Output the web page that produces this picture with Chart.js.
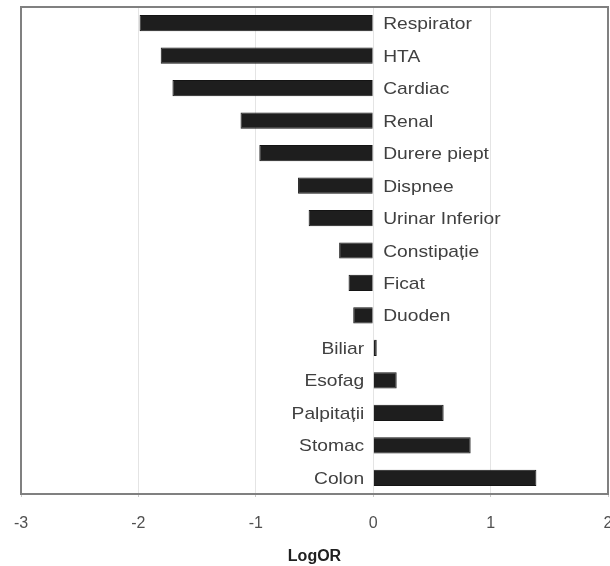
<!DOCTYPE html>
<html>
<head>
<meta charset="utf-8">
<script src="https://cdn.jsdelivr.net/npm/chart.js@4"></script>
<style>
  html, body { margin: 0; padding: 0; background: #fff; }
  #wrap { width: 610px; height: 566px; position: relative; }
</style>
</head>
<body>
<div id="wrap"><canvas id="c"></canvas></div>
<script>
const categories = ["Respirator", "HTA", "Cardiac", "Renal", "Durere piept", "Dispnee", "Urinar Inferior", "Constipație", "Ficat", "Duoden", "Biliar", "Esofag", "Palpitații", "Stomac", "Colon"];
const logOR = [-1.99, -1.81, -1.71, -1.13, -0.97, -0.64, -0.55, -0.29, -0.21, -0.17, 0.03, 0.20, 0.60, 0.83, 1.39];
const xTicks = [-3, -2, -1, 0, 1, 2];
const axisTitle = "LogOR";

const labelPlugin = {
  id: 'barLabels',
  afterDatasetsDraw(chart) {
    const ctx = chart.ctx;
    const xs = chart.scales.x;
    const meta = chart.getDatasetMeta(0);
    const x0 = xs.getPixelForValue(0);
    ctx.save();
    ctx.font = '17px "Liberation Sans", Arial, sans-serif';
    ctx.fillStyle = '#404040';
    ctx.textBaseline = 'alphabetic';
    meta.data.forEach((bar, i) => {
      const v = logOR[i];
      const y = bar.y + 6;
      ctx.save();
      if (v < 0) {
        ctx.translate(x0 + 10, y);
        ctx.scale(1.13, 1);
        ctx.textAlign = 'left';
      } else {
        ctx.translate(x0 - 9, y);
        ctx.scale(1.13, 1);
        ctx.textAlign = 'right';
      }
      ctx.fillText(categories[i], 0, 0);
      ctx.restore();
    });
    ctx.restore();
  }
};

const framePlugin = {
  id: 'frame',
  afterDatasetsDraw(chart) {
    const a = chart.chartArea;
    const ctx = chart.ctx;
    ctx.save();
    ctx.strokeStyle = '#808080';
    ctx.lineWidth = 2;
    ctx.strokeRect(a.left, a.top, a.right - a.left, a.bottom - a.top);
    ctx.restore();
  }
};

new Chart(document.getElementById('c'), {
  type: 'bar',
  data: {
    labels: categories,
    datasets: [{
      data: logOR,
      backgroundColor: '#1e1e1e',
      borderColor: '#141414',
      borderWidth: 1,
      barPercentage: 0.5,
      categoryPercentage: 1.0
    }]
  },
  options: {
    indexAxis: 'y',
    responsive: true,
    maintainAspectRatio: false,
    animation: false,
    layout: { padding: { left: 21, right: 2, top: 7, bottom: 0 } },
    plugins: { legend: { display: false }, tooltip: { enabled: false } },
    scales: {
      x: {
        min: -3, max: 2,
        afterBuildTicks(scale) { scale.ticks = xTicks.map(v => ({ value: v })); },
        afterFit(scale) { scale.height = 72; scale.paddingLeft = 0; scale.paddingRight = 0; },
        grid: { color: '#e4e4e4', lineWidth: 1, drawTicks: true, tickLength: 3, tickColor: '#c8c8c8' },
        border: { display: false },
        ticks: {
          color: '#505050',
          font: { family: '"Liberation Sans", Arial, sans-serif', size: 16 },
          padding: 17,
          maxRotation: 0,
          autoSkip: false
        },
        title: {
          display: true,
          text: axisTitle,
          color: '#202020',
          font: { family: '"Liberation Sans", Arial, sans-serif', size: 16, weight: 'bold' },
          padding: { top: 0, bottom: 0 }
        }
      },
      y: {
        display: false,
        grid: { display: false }
      }
    }
  },
  plugins: [labelPlugin, framePlugin]
});
</script>
</body>
</html>
